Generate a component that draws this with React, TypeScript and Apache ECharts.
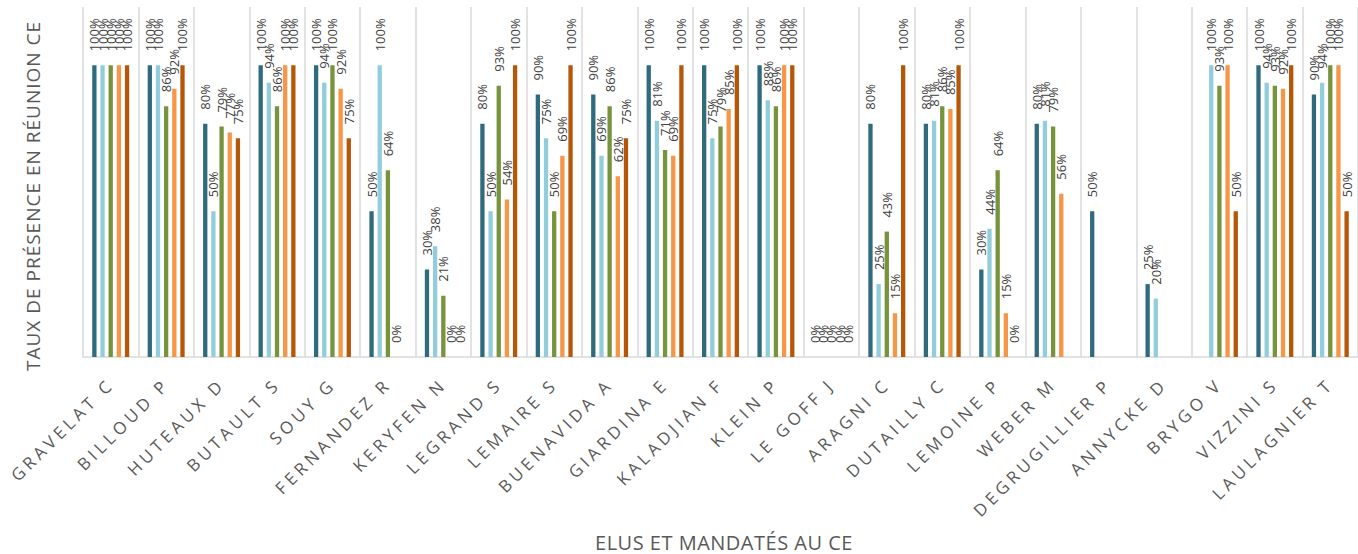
import { useEffect, useRef } from 'react';
import * as echarts from 'echarts';

const categories = [
  'GRAVELAT C', 'BILLOUD P', 'HUTEAUX D', 'BUTAULT S', 'SOUY G', 'FERNANDEZ R', 'KERYFEN N',
  'LEGRAND S', 'LEMAIRE S', 'BUENAVIDA A', 'GIARDINA E', 'KALADJIAN F', 'KLEIN P', 'LE GOFF J',
  'ARAGNI C', 'DUTAILLY C', 'LEMOINE P', 'WEBER M', 'DEGRUGILLIER P', 'ANNYCKE D', 'BRYGO V',
  'VIZZINI S', 'LAULAGNIER T',
];

const serie1 = [100, 100, 80, 100, 100, 50, 30, 80, 90, 90, 100, 100, 100, 0, 80, 80, 30, 80, 50, 25, null, 100, 90];
const serie2 = [100, 100, 50, 94, 94, 100, 38, 50, 75, 69, 81, 75, 88, 0, 25, 81, 44, 81, null, 20, 100, 94, 94];
const serie3 = [100, 86, 79, 86, 100, 64, 21, 93, 50, 86, 71, 79, 86, 0, 43, 86, 64, 79, null, null, 93, 93, 100];
const serie4 = [100, 92, 77, 100, 92, 0, 0, 54, 69, 62, 69, 85, 100, 0, 15, 85, 15, 56, null, null, 100, 92, 100];
const serie5 = [100, 100, 75, 100, 75, null, 0, 100, 100, 75, 100, 100, 100, 0, 100, 100, 0, null, null, null, 50, 100, 50];

const seriesList = [
  { name: 'Série 1', data: serie1, color: '#2F6B7D' },
  { name: 'Série 2', data: serie2, color: '#92CDDC' },
  { name: 'Série 3', data: serie3, color: '#77933C' },
  { name: 'Série 4', data: serie4, color: '#F79646' },
  { name: 'Série 5', data: serie5, color: '#B65708' },
];

const FONT = "'Open Sans', 'Noto Sans', sans-serif";

export default function App() {
  const ref = useRef<HTMLDivElement>(null);

  useEffect(() => {
    if (!ref.current) return;
    const chart = echarts.init(ref.current, null, { renderer: 'svg' });
    const option = {
      animation: false,
      backgroundColor: '#ffffff',
      grid: { left: 83, right: -7, top: 7, bottom: 197, containLabel: false },
      xAxis: {
        type: 'category',
        data: categories,
        axisLine: { show: true, lineStyle: { color: '#D9D9D9', width: 1.5 } },
        axisTick: { show: false },
        splitLine: { show: true, lineStyle: { color: '#D9D9D9', width: 1.5 } },
        axisLabel: {
          interval: 0,
          rotate: 45,
          margin: 24,
          color: '#595959',
          fontSize: 17,
          fontFamily: FONT,
        },
      },
      yAxis: {
        type: 'value',
        min: 0,
        max: 120,
        show: false,
        splitLine: { show: false },
      },
      graphic: [
        {
          type: 'text',
          x: 33,
          y: 196,
          rotation: Math.PI / 2,
          style: {
            text: 'TAUX DE PRÉSENCE EN RÉUNION CE',
            fill: '#595959',
            fontSize: 19,
            fontFamily: FONT,
            textAlign: 'center',
            textVerticalAlign: 'middle',
          },
        },
        {
          type: 'text',
          x: 724,
          y: 542,
          style: {
            text: 'ELUS ET MANDATÉS AU CE',
            fill: '#595959',
            fontSize: 20,
            fontFamily: FONT,
            textAlign: 'center',
            textVerticalAlign: 'middle',
          },
        },
      ],
      series: seriesList.map((s) => ({
        type: 'bar',
        name: s.name,
        data: s.data,
        barWidth: 4.3,
        barGap: '90%',
        itemStyle: { color: s.color },
        label: {
          show: true,
          position: 'top',
          rotate: 90,
          align: 'left',
          verticalAlign: 'middle',
          distance: 14,
          color: '#404040',
          fontSize: 13,
          fontFamily: FONT,
          formatter: '{c}%',
        },
      })),
    };
    chart.setOption(option);

    const applySpacing = () => {
      const root = ref.current;
      if (!root) return;
      root.querySelectorAll('text').forEach((t) => {
        const txt = (t.textContent || '').trim();
        if (categories.includes(txt)) {
          (t as SVGTextElement).style.letterSpacing = '4px';
        } else if (txt === 'TAUX DE PRÉSENCE EN RÉUNION CE') {
          (t as SVGTextElement).style.letterSpacing = '1px';
        } else if (txt === 'ELUS ET MANDATÉS AU CE') {
          (t as SVGTextElement).style.letterSpacing = '0.5px';
        }
      });
    };
    applySpacing();
    chart.on('finished', applySpacing);

    return () => {
      chart.dispose();
    };
  }, []);

  return (
    <div
      style={{
        position: 'absolute',
        left: 0,
        top: 0,
        width: 1358,
        height: 554,
        overflow: 'hidden',
        background: '#ffffff',
      }}
    >
      <div ref={ref} style={{ width: 1358, height: 554 }} />
    </div>
  );
}
